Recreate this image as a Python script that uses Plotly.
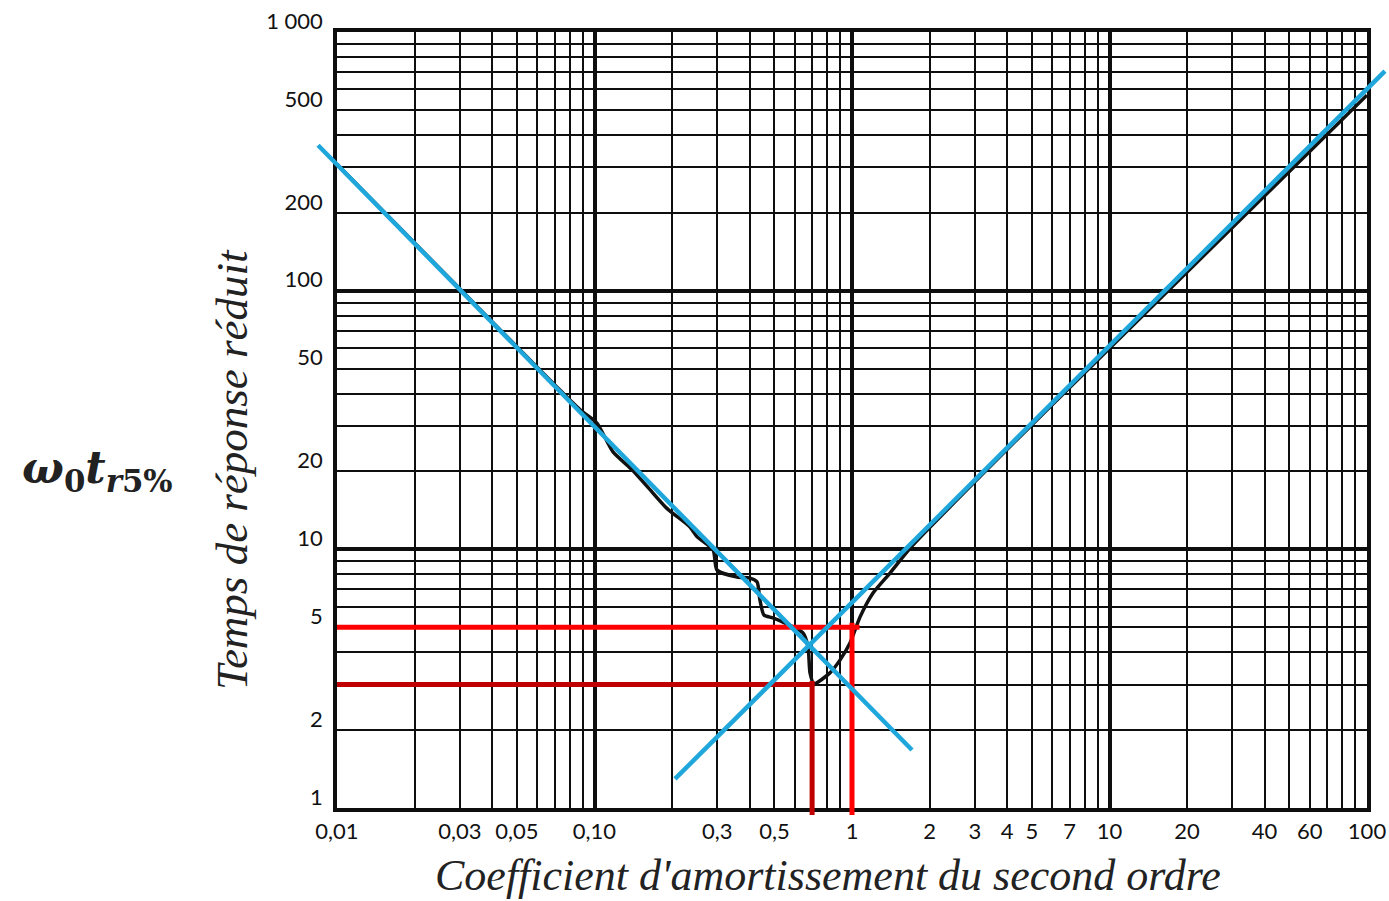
import math
import plotly.graph_objects as go

# ---- data ---------------------------------------------------------------
# reduced 5 % response time  w0*t_r5%  versus damping ratio zeta
curve_zeta = [0.01, 0.0275, 0.088, 0.102, 0.118, 0.140, 0.161, 0.191, 0.235,
              0.250, 0.289, 0.299, 0.358, 0.402, 0.428, 0.439, 0.455, 0.493,
              0.560, 0.645, 0.675, 0.687, 0.712, 0.821, 0.898, 0.982, 1.074,
              1.207, 1.405, 1.726, 5.71, 100.0]
curve_t = [308, 110.9, 34.6, 30.8, 23.8, 20.3, 17.4, 14.4, 12.2,
           11.2, 9.94, 8.32, 7.81, 7.74, 7.47, 6.37, 5.57, 5.43,
           5.14, 4.75, 4.19, 3.33, 3.02, 3.33, 3.73, 4.34, 5.47,
           6.78, 8.10, 10.4, 34.6, 570]

# asymptotes
low_asym_zeta = [0.00844, 1.71]
low_asym_t = [365, 1.676]
high_asym_zeta = [0.2054, 117.4]
high_asym_t = [1.295, 706]

# reading guides
guide_zeta_a = [0.01, 1.07, None, 1.0, 1.0]
guide_t_a = [5, 5, None, 5.2, 0.94]
guide_zeta_b = [0.01, 0.715, None, 0.7, 0.7]
guide_t_b = [3, 3, None, 3.1, 0.94]

# grid and tick labels
x_grid = [m * 10 ** e for e in range(-2, 2) for m in range(1, 10)] + [100]
x_labels = {0.01: "0,01", 0.03: "0,03", 0.05: "0,05", 0.1: "0,10", 0.3: "0,3",
            0.5: "0,5", 1: "1", 2: "2", 3: "3", 4: "4", 5: "5", 7: "7",
            10: "10", 20: "20", 40: "40", 60: "60", 100: "100"}
y_grid = [m * 10 ** e for e in range(0, 3) for m in range(1, 10)] + [1000]
y_labels = {1: "1", 2: "2", 5: "5", 10: "10", 20: "20", 50: "50", 100: "100",
            200: "200", 500: "500", 1000: "1 000"}
x_decades = [0.01, 0.1, 1, 10, 100]
y_decades = [1, 10, 100, 1000]


def label_for(v, labels):
    for k, t in labels.items():
        if abs(math.log10(v) - math.log10(k)) < 1e-6:
            return t
    return ""


# ---- layout geometry ----------------------------------------------------
W, H = 1389, 901
x_dom = [337 / W, 1367 / W]
y_dom = [1 - 808 / H, 1 - 32 / H]
x_rng = [-2, 2]
y_rng = [0, 3]


def full_range(rng, dom):
    span = (rng[1] - rng[0]) / (dom[1] - dom[0])
    lo = rng[0] - dom[0] * span
    return [lo, lo + span]


GRID = "#0e0e0e"
BLUE = "#1fa7dc"

fig = go.Figure()

fig.add_trace(go.Scatter(x=curve_zeta, y=curve_t, mode="lines",
                         line=dict(color="#111111", width=3.5, shape="spline",
                                   smoothing=0.6),
                         hoverinfo="skip", showlegend=False))

for xs, ys, col in [(guide_zeta_a, guide_t_a, "#ff0000"),
                    (guide_zeta_b, guide_t_b, "#c00000")]:
    fig.add_trace(go.Scatter(x=xs, y=ys, mode="lines", xaxis="x2", yaxis="y2",
                             line=dict(color=col, width=5),
                             hoverinfo="skip", showlegend=False))

for xs, ys in [(low_asym_zeta, low_asym_t), (high_asym_zeta, high_asym_t)]:
    fig.add_trace(go.Scatter(x=xs, y=ys, mode="lines", xaxis="x2", yaxis="y2",
                             line=dict(color=BLUE, width=4.5),
                             hoverinfo="skip", showlegend=False))

tick_font = dict(family="Lato", size=22, color="#111111")

fig.update_layout(
    width=W, height=H, autosize=False,
    margin=dict(l=0, r=0, t=0, b=0, pad=0, autoexpand=False),
    paper_bgcolor="white", plot_bgcolor="rgba(0,0,0,0)",
    xaxis=dict(type="log", domain=x_dom, range=x_rng, automargin=False,
               tickmode="array", tickvals=x_grid,
               ticktext=[label_for(v, x_labels) for v in x_grid],
               ticks="", showgrid=True, gridcolor=GRID, gridwidth=2.4,
               minor=dict(tickmode="array", tickvals=x_decades, showgrid=True,
                          gridcolor=GRID, gridwidth=4, ticks=""),
               showline=True, linecolor=GRID, linewidth=3.5, mirror=True,
               zeroline=False, tickfont=tick_font, ticklabelstandoff=1,
               anchor="y"),
    yaxis=dict(type="log", domain=y_dom, range=y_rng, automargin=False,
               tickmode="array", tickvals=y_grid,
               ticktext=[label_for(v, y_labels) for v in y_grid],
               ticks="", showgrid=True, gridcolor=GRID, gridwidth=2.4,
               minor=dict(tickmode="array", tickvals=y_decades, showgrid=True,
                          gridcolor=GRID, gridwidth=4, ticks=""),
               showline=True, linecolor=GRID, linewidth=3.5, mirror=True,
               zeroline=False, tickfont=tick_font, ticklabelstandoff=6,
               ticklabelshift=-11, anchor="x"),
    xaxis2=dict(type="log", domain=[0, 1], range=full_range(x_rng, x_dom),
                visible=False, anchor="y2", fixedrange=True, automargin=False),
    yaxis2=dict(type="log", domain=[0, 1], range=full_range(y_rng, y_dom),
                visible=False, anchor="x2", fixedrange=True, automargin=False),
    annotations=[
        dict(text="<i>Temps de réponse réduit</i>", xref="paper", yref="paper",
             x=232 / W, y=1 - 470 / H, xanchor="center", yanchor="middle",
             textangle=-90, showarrow=False,
             font=dict(family="Liberation Serif", size=45, color="#222222")),
        dict(text="<i>Coefficient d'amortissement du second ordre</i>",
             xref="paper", yref="paper", x=828 / W, y=1 - 875 / H,
             xanchor="center", yanchor="middle", showarrow=False,
             borderpad=0,
             font=dict(family="Liberation Serif", size=44, color="#222222")),
        dict(text="<b><i>ω</i><sub>0</sub><i>t</i><sub><i>r</i>5%</sub></b>",
             xref="paper", yref="paper", x=97 / W, y=1 - 470 / H,
             xanchor="center", yanchor="middle", showarrow=False,
             font=dict(family="DejaVu Serif", size=44, color="#222222")),
    ],
)

fig.write_html("out.html")
